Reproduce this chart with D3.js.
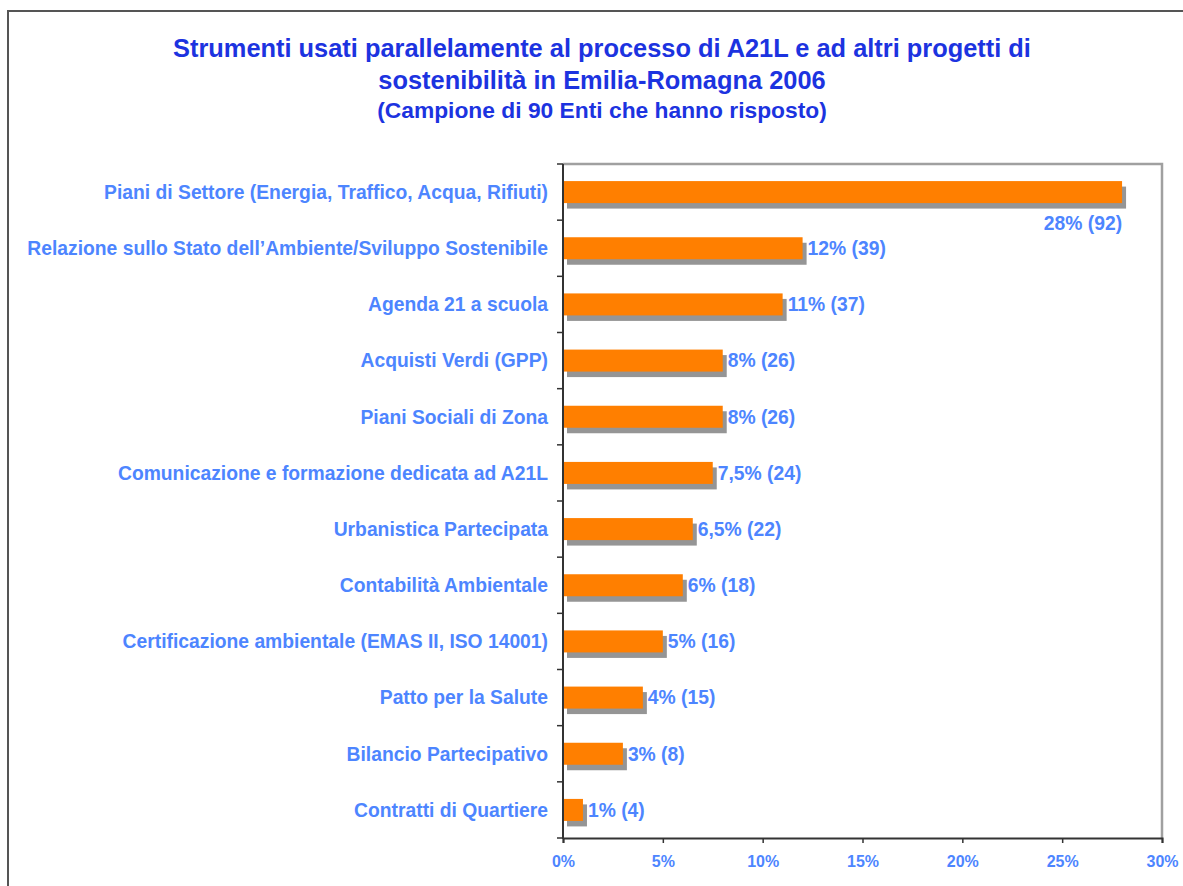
<!DOCTYPE html>
<html><head><meta charset="utf-8">
<script src="https://cdn.jsdelivr.net/npm/d3@7"></script>
<style>body{margin:0;background:#fff}svg{display:block}</style>
</head><body>
<script>
const categories = ["Piani di Settore (Energia, Traffico, Acqua, Rifiuti)",
 "Relazione sullo Stato dell\u2019Ambiente/Sviluppo Sostenibile",
 "Agenda 21 a scuola","Acquisti Verdi (GPP)","Piani Sociali di Zona",
 "Comunicazione e formazione dedicata ad A21L","Urbanistica Partecipata",
 "Contabilit\u00e0 Ambientale","Certificazione ambientale (EMAS II, ISO 14001)",
 "Patto per la Salute","Bilancio Partecipativo","Contratti di Quartiere"];
const values = [28,12,11,8,8,7.5,6.5,6,5,4,3,1];
const valueLabels = ["28% (92)","12% (39)","11% (37)","8% (26)","8% (26)","7,5% (24)","6,5% (22)","6% (18)","5% (16)","4% (15)","3% (8)","1% (4)"];
const tickValues = [0,5,10,15,20,25,30];
const titleLines = ["Strumenti usati parallelamente al processo di A21L e ad altri progetti di","sostenibilit\u00e0 in Emilia-Romagna 2006","(Campione di 90 Enti che hanno risposto)"];

const W=1183,H=886;
const svg=d3.select("body").append("svg").attr("width",W).attr("height",H);
const font="Arial, 'Liberation Sans', sans-serif";
const blue="#4D85FF", tblue="#1C33E0";

svg.append("rect").attr("x",8).attr("y",11).attr("width",W).attr("height",H).attr("fill","none").attr("stroke","#555").attr("stroke-width",2);

const tsize=[25.4,25.4,22.8], ty=[57,89,118];
titleLines.forEach((t,i)=>svg.append("text").attr("x",602).attr("y",ty[i]).attr("text-anchor","middle")
  .attr("font-family",font).attr("font-weight","bold").attr("font-size",tsize[i]).attr("fill",tblue).text(t));

const L=563,R=1162,T=164,B=838;
const x=d3.scaleLinear().domain([0,30]).range([L,R]);
const y=d3.scaleBand().domain(categories).range([T,B]);
const bh=22;

// plot frame
svg.append("path").attr("d",`M${L},${T}H${R}V${B}`).attr("fill","none").attr("stroke","#A0A0A0").attr("stroke-width",2.5);

// shadows
svg.selectAll(".sh").data(values).join("rect").attr("x",x(0)+4).attr("y",(d,i)=>y(categories[i])+y.bandwidth()/2-bh/2+5.5)
  .attr("width",d=>x(d)-x(0)).attr("height",bh).attr("fill","#959595");
svg.selectAll(".bar").data(values).join("rect").attr("x",x(0)).attr("y",(d,i)=>y(categories[i])+y.bandwidth()/2-bh/2)
  .attr("width",d=>x(d)-x(0)).attr("height",bh).attr("fill","#FF7F00");

// axes
const xa=svg.append("g").attr("transform",`translate(0,${B})`).call(d3.axisBottom(x).tickValues(tickValues).tickSize(5).tickPadding(13).tickFormat(d=>d+"%"));
xa.select(".domain").attr("stroke","#333").attr("stroke-width",2);
xa.selectAll(".tick line").attr("stroke","#333").attr("stroke-width",1.5);
xa.selectAll("text").attr("font-family",font).attr("font-weight","bold").attr("font-size",16).attr("fill",blue);

svg.append("line").attr("x1",L).attr("x2",L).attr("y1",T).attr("y2",B+1).attr("stroke","#333").attr("stroke-width",2);
const bounds=d3.range(categories.length+1).map(i=>T+i*y.step());
svg.selectAll(".lt").data(bounds).join("line").attr("x1",L-6).attr("x2",L).attr("y1",d=>d).attr("y2",d=>d).attr("stroke","#333").attr("stroke-width",1.5);

// category labels
svg.selectAll(".cl").data(categories).join("text").attr("x",548).attr("y",d=>y(d)+y.bandwidth()/2).attr("dy","0.35em")
  .attr("text-anchor","end").attr("font-family",font).attr("font-weight","bold").attr("font-size",19.3).attr("fill",blue).text(d=>d);

// value labels
svg.selectAll(".vl").data(values).join("text")
  .attr("x",(d,i)=>i===0?x(d):x(d)+5)
  .attr("y",(d,i)=>y(categories[i])+y.bandwidth()/2+(i===0?31:0)).attr("dy","0.35em")
  .attr("text-anchor",(d,i)=>i===0?"end":"start")
  .attr("font-family",font).attr("font-weight","bold").attr("font-size",19.3).attr("fill",blue).text((d,i)=>valueLabels[i]);
</script>
</body></html>
